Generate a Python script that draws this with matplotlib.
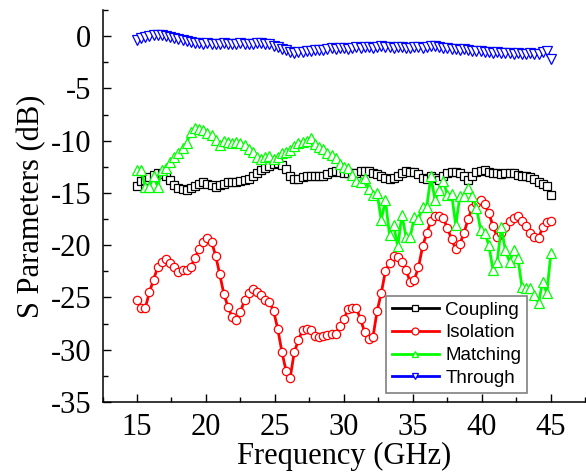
import numpy as np
import matplotlib
matplotlib.use("Agg")
import matplotlib.pyplot as plt
from matplotlib.ticker import MultipleLocator

plt.rcParams["axes.unicode_minus"] = False

# Frequency grid (GHz)
freq = np.linspace(15.0, 45.0, 101)

coupling = [-14.3, -13.9, -13.75, -13.5, -13.3, -13.1, -13.2, -13.4, -13.8, -14.2,
            -14.5, -14.6, -14.7, -14.5, -14.3, -14.1, -14.0, -14.1, -14.2, -14.4,
            -14.2, -14.1, -14.0, -14.0, -14.0, -13.9, -13.8, -13.7, -13.4, -13.1,
            -12.8, -12.6, -12.4, -12.2, -12.1, -12.3, -12.7, -13.4, -13.7, -13.7,
            -13.5, -13.4, -13.4, -13.35, -13.35, -13.35, -13.2, -13.0, -12.9, -13.0,
            -13.1, -13.1, -13.1, -13.1, -12.9, -12.9, -12.9, -13.1, -13.2, -13.4,
            -13.6, -13.7, -13.6, -13.4, -13.1, -12.9, -12.95, -13.0, -13.2, -13.6,
            -13.7, -13.4, -13.6, -13.75, -13.4, -13.1, -13.0, -13.0, -13.1, -13.4,
            -13.75, -13.4, -13.0, -12.9, -12.85, -12.95, -13.05, -13.1, -13.15, -13.1,
            -13.05, -13.1, -13.3, -13.35, -13.4, -13.5, -13.7, -14.0, -14.1, -14.3,
            -15.2]

isolation = [-25.2, -26.0, -26.0, -24.5, -23.3, -22.1, -21.6, -21.3, -21.7, -22.1,
             -22.6, -22.4, -22.4, -22.1, -21.2, -20.4, -19.65, -19.3, -19.65, -21.0,
             -22.8, -24.7, -25.9, -26.9, -27.2, -26.4, -25.2, -24.6, -24.2, -24.45,
             -24.8, -25.2, -25.4, -26.3, -28.0, -30.2, -32.0, -32.7, -30.2, -29.1,
             -28.1, -28.0, -28.1, -28.7, -28.8, -28.7, -28.6, -28.5, -28.5, -27.7,
             -27.1, -26.1, -26.0, -26.0, -27.1, -28.3, -29.0, -28.8, -26.3, -24.6,
             -22.5, -21.7, -21.0, -21.1, -21.6, -22.4, -23.5, -23.3, -22.1, -20.1,
             -18.85, -17.7, -17.2, -17.2, -17.4, -18.4, -19.4, -20.4, -19.9, -18.8,
             -17.5, -16.4, -16.0, -15.65, -16.1, -16.9, -18.2, -19.2, -18.8, -18.3,
             -17.7, -17.4, -17.2, -17.7, -18.15, -18.85, -19.2, -19.3, -18.3, -17.8,
             -17.7]

matching = [-12.8, -12.8, -14.4, -14.4, -13.4, -14.4, -12.8, -12.6, -12.0, -11.6,
            -11.2, -10.7, -10.2, -9.2, -8.8, -8.9, -9.0, -9.3, -9.5, -9.9,
            -10.4, -10.0, -10.1, -10.2, -10.1, -10.2, -10.4, -10.8, -11.1, -11.6,
            -11.8, -11.6, -11.5, -11.8, -11.6, -11.2, -11.1, -10.9, -10.5, -10.2,
            -10.1, -10.0, -9.7, -10.3, -10.6, -10.8, -11.2, -11.4, -11.7, -12.2,
            -12.5, -12.6, -13.3, -13.9, -14.0, -13.6, -14.6, -15.2, -15.0, -17.6,
            -15.7, -19.0, -18.1, -20.1, -17.1, -19.2, -19.2, -17.3, -17.5, -16.3,
            -16.3, -13.4, -15.7, -14.7, -13.9, -15.2, -15.1, -18.1, -15.3, -15.3,
            -14.5, -15.3, -16.4, -18.5, -18.8, -20.0, -22.4, -21.6, -18.3, -20.5,
            -21.6, -20.5, -21.2, -24.0, -24.1, -24.1, -24.8, -25.5, -23.5, -24.6,
            -20.7]

through = [-0.35, -0.15, -0.05, 0.05, 0.1, 0.15, 0.1, 0.0, -0.1, -0.2,
           -0.3, -0.4, -0.5, -0.6, -0.65, -0.7, -0.75, -0.7, -0.75, -0.8,
           -0.75, -0.7, -0.75, -0.8, -0.75, -0.7, -0.75, -0.8, -0.75, -0.7,
           -0.7, -0.75, -0.8, -0.9, -1.0, -1.2, -1.35, -1.5, -1.6, -1.55,
           -1.5, -1.45, -1.4, -1.35, -1.35, -1.3, -1.2, -1.15, -1.2, -1.1,
           -1.15, -1.2, -1.1, -1.05, -1.1, -1.0, -1.05, -1.1, -1.0, -0.95,
           -1.0, -1.05, -1.1, -1.0, -1.05, -1.1, -1.15, -1.05, -1.0, -1.1,
           -1.0, -0.95, -0.95, -1.0, -1.1, -1.15, -1.2, -1.2, -1.3, -1.25,
           -1.35, -1.4, -1.45, -1.4, -1.5, -1.55, -1.6, -1.55, -1.6, -1.65,
           -1.6, -1.7, -1.65, -1.7, -1.75, -1.6, -1.7, -1.75, -1.5, -1.4,
           -2.2]

series = [
    ("Coupling", coupling, "#000000", "s", 5.5),
    ("Isolation", isolation, "#ff0000", "o", 6.0),
    ("Matching", matching, "#00ff00", "^", 7.0),
    ("Through", through, "#0000ff", "v", 7.0),
]

serif = ["Liberation Serif", "DejaVu Serif"]
sans = ["Liberation Sans", "DejaVu Sans"]

fig = plt.figure(figsize=(5.86, 4.72), dpi=100)
ax = fig.add_axes([102.5 / 586, 1 - 402 / 472, (586 - 102.5) / 586, (402 - 10) / 472])

for name, vals, col, mk, ms in series:
    ax.plot(freq, vals, color=col, lw=2.0, marker=mk, markersize=ms,
            markerfacecolor="white", markeredgecolor=col, markeredgewidth=0.9,
            label=name)

ax.set_xlim(12.5, 47.54)
ax.set_ylim(-35, 2.5)
ax.xaxis.set_major_locator(MultipleLocator(5))
ax.xaxis.set_minor_locator(MultipleLocator(2.5))
ax.yaxis.set_major_locator(MultipleLocator(5))
ax.yaxis.set_minor_locator(MultipleLocator(2.5))

for s in ["top", "right"]:
    ax.spines[s].set_visible(False)
for s in ["left", "bottom"]:
    ax.spines[s].set_linewidth(1.1)

ax.tick_params(which="both", direction="in", width=1.0)
ax.tick_params(which="major", length=6, pad=8)
ax.tick_params(which="minor", length=3.5)

for lab in ax.get_xticklabels() + ax.get_yticklabels():
    lab.set_fontfamily(serif)
    lab.set_fontsize(22)

ax.set_xlabel("Frequency (GHz)", fontfamily=serif, fontsize=22, labelpad=0)
ax.set_ylabel("S Parameters (dB)", fontfamily=serif, fontsize=22, labelpad=3)

leg = ax.legend(loc="lower right", bbox_to_anchor=(0.878, 0.024), borderaxespad=0,
                numpoints=1, handlelength=2.5, handletextpad=0.35, labelspacing=0.3,
                borderpad=0.3, fancybox=False, framealpha=1,
                prop={"family": sans, "size": 13.5})
leg.get_frame().set_edgecolor("#808080")
leg.get_frame().set_linewidth(1.2)
for h in leg.legend_handles:
    h.set_markersize(5)

fig.savefig("out.png", dpi=100)
